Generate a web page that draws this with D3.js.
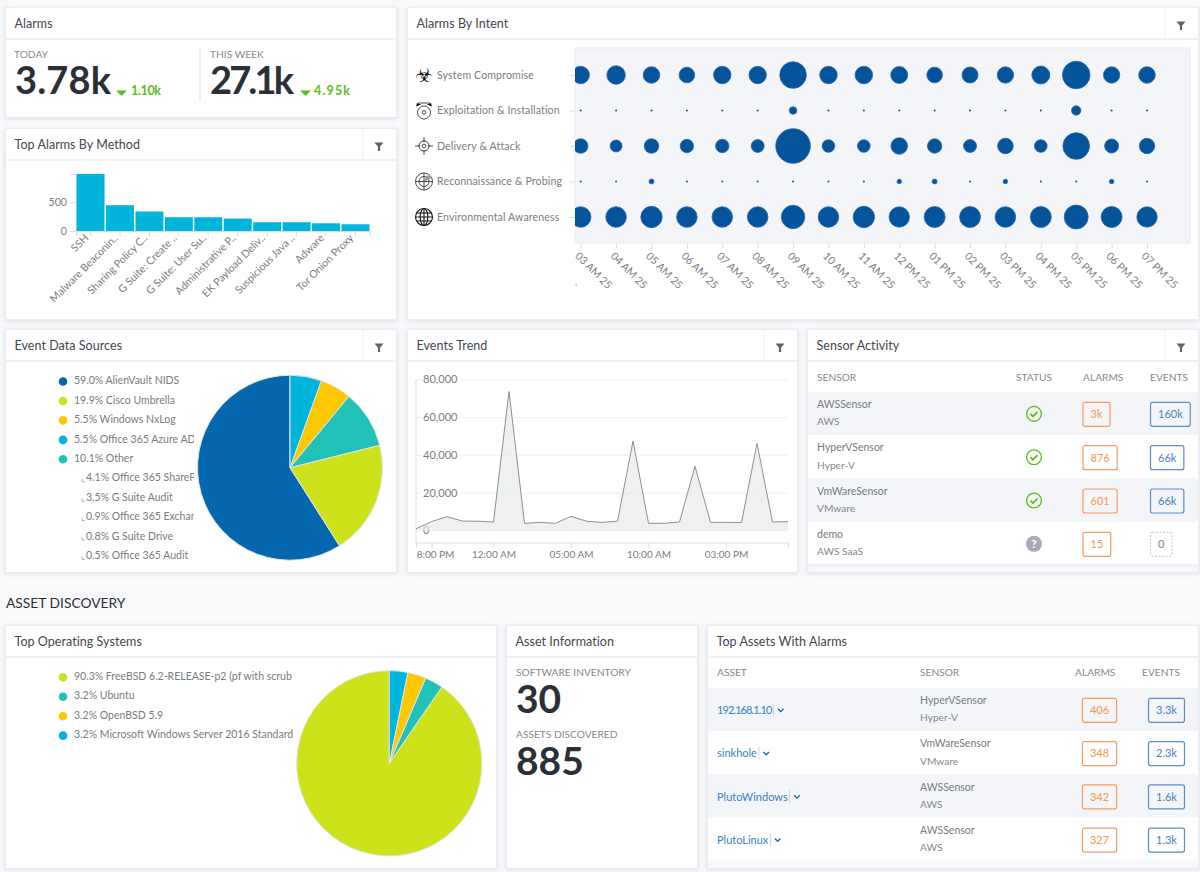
<!DOCTYPE html>
<html>
<head>
<meta charset="utf-8">
<script src="https://cdn.jsdelivr.net/npm/d3@7"></script>
<style>
  html, body { margin: 0; padding: 0; background: #f8f9fb; overflow: hidden; }
  svg { display: block; font-family: Lato, "Open Sans", sans-serif; }
  .panel { fill: #fff; stroke: #e9ecf1; filter: drop-shadow(0 1px 2px rgba(60,70,90,0.14)); }
  .hdr { stroke: #eef1f5; stroke-width: 2; }
  .title { font-size: 12.5px; fill: #43484d; letter-spacing: 0.05px; }
  .axis text { font-size: 10.6px; fill: #797e83; font-family: Lato, "Open Sans", sans-serif; }
  .axis line, .axis path { stroke: #d9dde2; }
  .lbl { font-size: 10.5px; fill: #777c81; }
  .small { font-size: 10.2px; fill: #84898e; }
</style>
</head>
<body>
<script>
// Alarms
const alarmStats = ["3.78k", "27.1k"]
const alarmDeltas = ["1.10k", "4.95k"]

// Top alarms by method
const methodNames = ["SSH", "Malware Beaconin..", "Sharing Policy C..", "G Suite: Create ..", "G Suite: User Su..",
  "Administrative P..", "EK Payload Deliv..", "Suspicious Java ..", "Adware", "Tor Onion Proxy"]
const methodCounts = [990, 448, 338, 239, 239, 216, 152, 152, 134, 117]

// Alarms by intent
const intentNames = ["System Compromise", "Exploitation & Installation", "Delivery & Attack", "Reconnaissance & Probing", "Environmental Awareness"]
const intentHours = ["03 AM 25", "04 AM 25", "05 AM 25", "06 AM 25", "07 AM 25", "08 AM 25", "09 AM 25", "10 AM 25", "11 AM 25",
  "12 PM 25", "01 PM 25", "02 PM 25", "03 PM 25", "04 PM 25", "05 PM 25", "06 PM 25", "07 PM 25"]
const systemCompromise = [76, 86, 69, 61, 76, 76, 177, 77, 77, 72, 61, 64, 67, 81, 190, 67, 69]
const exploitation = [1, 1, 1, 1, 1, 1, 14, 1, 1, 1, 1, 1, 1, 1, 22, 1, 1]
const deliveryAttack = [53, 36, 53, 45, 45, 42, 300, 40, 40, 69, 52, 42, 61, 40, 177, 49, 59]
const reconnaissance = [1, 1, 6, 1, 1, 1, 1, 1, 1, 5, 6, 1, 5, 1, 1, 5, 1]
const environmental = [106, 106, 114, 106, 106, 106, 137, 106, 114, 104, 110, 110, 106, 110, 144, 110, 104]
const intentSeries = [systemCompromise, exploitation, deliveryAttack, reconnaissance, environmental]

// Event data sources
const sourceNames = ["AlienVault NIDS", "Cisco Umbrella", "Windows NxLog", "Office 365 Azure AD", "Other"]
const sourceShares = [59.0, 19.9, 5.5, 5.5, 10.1]
const sourceColors = ["#0568ae", "#cee21c", "#fdc800", "#00b4dc", "#22c1b8"]
const sourcePieOrder = ["Office 365 Azure AD", "Windows NxLog", "Other", "Cisco Umbrella", "AlienVault NIDS"]
const otherNames = ["Office 365 SharePoint", "G Suite Audit", "Office 365 Exchange", "G Suite Drive", "Office 365 Audit"]
const otherShares = [4.1, 3.5, 0.9, 0.8, 0.5]

// Events trend, one point per hour
const trendEvents = [800, 4600, 7200, 4900, 4800, 4400, 73500, 3700, 4200, 3700, 7400, 4800, 4200, 4800, 47300, 3700, 3700,
  4400, 33900, 4200, 4200, 4100, 46100, 4400, 4600]
const trendTicks = [1, 5, 10, 15, 20]
const trendTickLabels = ["8:00 PM", "12:00 AM", "05:00 AM", "10:00 AM", "03:00 PM"]
const trendYTicks = [0, 20000, 40000, 60000, 80000]

// Sensor activity
const sensorNames = ["AWSSensor", "HyperVSensor", "VmWareSensor", "demo"]
const sensorTypes = ["AWS", "Hyper-V", "VMware", "AWS SaaS"]
const sensorOk = [true, true, true, false]
const sensorAlarms = ["3k", "876", "601", "15"]
const sensorEvents = ["160k", "66k", "66k", "0"]

// Top operating systems
const osNames = ["FreeBSD 6.2-RELEASE-p2 (pf with scrub", "Ubuntu", "OpenBSD 5.9", "Microsoft Windows Server 2016 Standard Edition"]
const osShares = [90.3, 3.2, 3.2, 3.2]
const osColors = ["#cee21c", "#22c1b8", "#fdc800", "#00b4dc"]
const osPieOrder = ["Microsoft Windows Server 2016 Standard Edition", "OpenBSD 5.9", "Ubuntu", "FreeBSD 6.2-RELEASE-p2 (pf with scrub"]

// Top assets
const assetNames = ["192.168.1.10", "sinkhole", "PlutoWindows", "PlutoLinux"]
const assetSensors = ["HyperVSensor", "VmWareSensor", "AWSSensor", "AWSSensor"]
const assetTypes = ["Hyper-V", "VMware", "AWS", "AWS"]
const assetAlarms = ["406", "348", "342", "327"]
const assetEvents = ["3.3k", "2.3k", "1.6k", "1.3k"]

const orange = "#f79a63"
const blue = "#5b8cc4"
const green = "#5bbd1e"

const svg = d3.select("body").append("svg").attr("width", 1200).attr("height", 872)
const defs = svg.append("defs")

function addClip(id, x, y, w, h) {
  defs.append("clipPath").attr("id", id).append("rect").attr("x", x).attr("y", y).attr("width", w).attr("height", h)
}

function panel(x, y, w, h, title, filterX) {
  svg.append("rect").attr("class", "panel").attr("x", x + 0.5).attr("y", y + 0.5).attr("width", w).attr("height", h)
  svg.append("text").attr("class", "title").attr("x", x + 9.5).attr("y", y + 16.5).attr("dy", ".35em").text(title)
  svg.append("line").attr("class", "hdr").attr("x1", x + 1).attr("x2", x + w).attr("y1", y + 32).attr("y2", y + 32)
  if (filterX) {
    svg.append("line").attr("class", "hdr").style("stroke-width", 1).attr("x1", filterX).attr("x2", filterX).attr("y1", y + 1).attr("y2", y + 32)
    svg.append("path").attr("fill", "#5d6268")
      .attr("d", `M${filterX + 11.5} ${y + 14.5}h9l-3.4 4v4.5h-2.2v-4.5z`)
  }
}

// ---------- Alarms
panel(5, 7, 391, 110, "Alarms")
const statX = [15, 210]
const statW = [96, 84]
const deltaX = [131, 314]
const deltaW = [30, 36]
const triX = [116, 300]
alarmStats.forEach((d, i) => {
  svg.append("text").attr("class", "small").attr("x", i ? 210 : 14).attr("y", 54).attr("dy", ".35em").text(i ? "THIS WEEK" : "TODAY")
  svg.append("text").attr("x", statX[i]).attr("y", 94).attr("font-size", 38).attr("font-weight", 700).attr("fill", "#2b3036")
    .attr("textLength", statW[i]).attr("lengthAdjust", "spacing").text(d)
  svg.append("path").attr("fill", green).attr("d", `M${triX[i]} 90.5h11l-5.5 5.5z`)
  svg.append("text").attr("x", deltaX[i]).attr("y", 95).attr("font-size", 12.5).attr("font-weight", 700).attr("fill", green)
    .attr("textLength", deltaW[i]).attr("lengthAdjust", "spacing").text(alarmDeltas[i])
})
svg.append("line").attr("x1", 200).attr("x2", 200).attr("y1", 48).attr("y2", 101).attr("stroke", "#e9ecef").attr("stroke-width", 1.5)

// ---------- Top alarms by method
panel(5, 128, 391, 191, "Top Alarms By Method", 363)
const barX = d3.scaleBand().domain(methodNames).range([76, 370]).paddingInner(0.05).paddingOuter(0.02)
const barY = d3.scaleLinear().domain([0, 990]).range([231, 174])
svg.append("g").attr("class", "axis").attr("transform", "translate(76,0)")
  .call(d3.axisLeft(barY).tickValues([0, 500]).tickSize(6))
svg.append("g").selectAll("rect").data(methodCounts).join("rect")
  .attr("x", (d, i) => barX(methodNames[i]))
  .attr("y", d => barY(d))
  .attr("width", barX.bandwidth())
  .attr("height", d => barY(0) - barY(d))
  .attr("fill", "#00b4dc")
svg.append("g").attr("class", "axis").attr("transform", "translate(0,231)")
  .call(d3.axisBottom(barX).tickSize(5))
  .selectAll("text")
  .attr("x", 0).attr("y", 0).attr("dy", ".35em")
  .attr("text-anchor", "end")
  .attr("transform", "translate(-4,5) rotate(-45)")

// ---------- Alarms by intent
panel(407, 7, 791, 312, "Alarms By Intent", 1165)
svg.append("rect").attr("x", 575).attr("y", 48).attr("width", 615).attr("height", 195)
  .attr("fill", "#f4f5f8").attr("stroke", "#e9ecf1")
addClip("plot", 575, 48, 615, 195)
const intentX = d3.scalePoint().domain(intentHours).range([580.7, 1147])
const intentY = d3.scalePoint().domain(intentNames).range([75, 217])
const radius = d3.scaleSqrt().domain([0, 300]).range([0, 17.3])
const yAxisG = svg.append("g").attr("class", "axis").attr("transform", "translate(575,0)")
  .call(d3.axisLeft(intentY).tickSize(5).tickSizeOuter(0))
yAxisG.select(".domain").remove()
yAxisG.selectAll("text").attr("x", -138).attr("text-anchor", "start").style("letter-spacing", "0.12px")
const xAxisG = svg.append("g").attr("class", "axis").attr("transform", "translate(0,243)")
  .call(d3.axisBottom(intentX).tickSize(5).tickSizeOuter(0))
xAxisG.select(".domain").remove()
xAxisG.selectAll("text").attr("x", 0).attr("y", 0).attr("dy", ".35em")
  .attr("text-anchor", "start")
  .attr("transform", "translate(-4,11) rotate(45)")
svg.append("text").attr("x", 575).attr("y", 285).attr("font-size", 9).attr("fill", "#8a8f94").text(",")

const bubbleG = svg.append("g").attr("clip-path", "url(#plot)")
intentSeries.forEach((series, s) => {
  bubbleG.append("g").selectAll("circle").data(series).join("circle")
    .attr("cx", (d, i) => intentX(intentHours[i]))
    .attr("cy", intentY(intentNames[s]))
    .attr("r", d => radius(d))
    .attr("fill", "#03549a")
    .attr("stroke", "#2a62a8")
    .attr("stroke-width", d => d > 1 ? 0.8 : 0)
})

// little intent icons
function intentIcon(i, cy) {
  const g = svg.append("g").attr("transform", `translate(424,${cy})`).attr("fill", "none").attr("stroke", "#333").attr("stroke-width", 0.9)
  if (i == 0) {
    g.append("text").attr("text-anchor", "middle").attr("dy", ".36em").attr("stroke", "none").attr("fill", "#111")
      .attr("font-family", "DejaVu Sans").attr("font-size", 20).text("\u2623")
  } else if (i == 1) {
    g.append("circle").attr("cy", 2).attr("r", 6.5)
    g.append("circle").attr("cy", 2).attr("r", 1.8)
    g.append("path").attr("fill", "#111").attr("stroke", "none").attr("d", "M-8 -4l1 -3.5l4 1.5zM8 -4l-1 -3.5l-4 1.5z")
    g.append("path").attr("d", "M-6 -7.5h12")
  } else if (i == 2) {
    g.append("circle").attr("r", 5)
    g.append("circle").attr("r", 1.8)
    g.append("path").attr("d", "M-9 0h5M4 0h5M0 -9v5M0 4v5")
  } else if (i == 3) {
    g.append("circle").attr("r", 8.5)
    g.append("circle").attr("r", 5)
    g.append("path").attr("d", "M-8.5 0h17M0 -8.5v17M0 0l5 -5")
    g.append("path").attr("fill", "#999").attr("stroke", "none").attr("d", "M0 0L7 -3A7 7 0 0 0 3 -6.5z")
  } else {
    g.attr("stroke", "#111").attr("stroke-width", 1.1)
    g.append("circle").attr("r", 8.5)
    g.append("ellipse").attr("rx", 3.8).attr("ry", 8.5)
    g.append("path").attr("d", "M-8.5 0h17M0 -8.5v17M-7.5 -4h15M-7.5 4h15")
  }
}
intentNames.forEach((d, i) => intentIcon(i, intentY(d)))

// ---------- Pie helper, used by both pies
function pieWithLegend(names, shares, colors, pieOrder, cx, cy, r, legendTop, clipRight, clipId) {
  const pie = d3.pie().value(d => d.share).sort((a, b) => pieOrder.indexOf(a.name) - pieOrder.indexOf(b.name))
  const rows = names.map((name, i) => ({ name, share: shares[i], color: colors[i] }))
  const arc = d3.arc().innerRadius(0).outerRadius(r)
  svg.append("g").attr("transform", `translate(${cx},${cy})`)
    .selectAll("path").data(pie(rows)).join("path")
    .attr("d", arc).attr("fill", d => d.data.color).attr("stroke", "#e2e6e9").attr("stroke-width", 1)
  addClip(clipId, 0, legendTop - 12, clipRight, 220)
  const legend = svg.append("g").attr("clip-path", `url(#${clipId})`)
  rows.forEach((d, i) => {
    const y = legendTop + i * 19.45
    legend.append("circle").attr("cx", 63).attr("cy", y + 1).attr("r", 4.3).attr("fill", d.color)
    legend.append("text").attr("class", "lbl").attr("x", 74).attr("y", y).attr("dy", ".35em")
      .text(d.share.toFixed(1) + "% " + d.name)
  })
  return legend
}

// ---------- Event data sources
panel(5, 329, 391, 243, "Event Data Sources", 363)
const srcLegend = pieWithLegend(sourceNames, sourceShares, sourceColors, sourcePieOrder, 290, 467.7, 92.5, 380.5, 194, "srcClip")
otherNames.forEach((d, i) => {
  const y = 380.5 + (i + 5) * 19.45
  srcLegend.append("path").attr("d", `M82 ${y + 1}v3h3`).attr("fill", "none").attr("stroke", "#9a9ea3").attr("stroke-width", 0.8)
  srcLegend.append("text").attr("class", "lbl").attr("x", 86).attr("y", y).attr("dy", ".35em")
    .text(otherShares[i].toFixed(1) + "% " + d)
})

// ---------- Events trend
panel(407, 329, 390, 243, "Events Trend", 764)
const trendStart = new Date(2018, 0, 1, 19)
const trendDate = i => d3.timeHour.offset(trendStart, i)
const trendX = d3.scaleTime().domain([trendDate(0), trendDate(24)]).range([416, 788])
const trendY = d3.scaleLinear().domain([0, 80000]).range([530.3, 379.3])
const trendYG = svg.append("g").attr("class", "axis").attr("transform", "translate(416,0)")
  .call(d3.axisRight(trendY).tickValues(trendYTicks).tickSize(372).tickFormat(d3.format(",")))
trendYG.select(".domain").remove()
trendYG.selectAll("line").style("stroke", "#eef0f3")
trendYG.selectAll("text").attr("x", 7).attr("text-anchor", "start")
  .style("font-size", "11px")
  .style("paint-order", "stroke").attr("stroke", "#fff").attr("stroke-width", 4)
svg.append("line").attr("x1", 416).attr("x2", 416).attr("y1", 379).attr("y2", 543).attr("stroke", "#d9dde2")
const trendArea = d3.area().x((d, i) => trendX(trendDate(i))).y0(trendY(0)).y1(d => trendY(d))
const trendLine = d3.line().x((d, i) => trendX(trendDate(i))).y(d => trendY(d))
svg.append("path").datum(trendEvents).attr("d", trendArea).attr("fill", "#e6e9e9").attr("fill-opacity", 0.65)
svg.append("path").datum(trendEvents).attr("d", trendLine).attr("fill", "none").attr("stroke", "#8b9095").attr("stroke-width", 1)
const trendXG = svg.append("g").attr("class", "axis").attr("transform", "translate(0,542.5)")
  .call(d3.axisBottom(trendX).tickValues(trendTicks.map(trendDate)).tickSize(5)
    .tickFormat((d, i) => trendTickLabels[i]))
trendXG.selectAll("text").style("font-size", "10px")
trendXG.selectAll("text").filter((d, i) => i == 0).attr("dx", 3.5)

// ---------- Tables
function badge(g, x, cy, label, color, textColor, leftEdge, dashed) {
  const t = g.append("text").attr("y", cy).attr("dy", ".35em").attr("text-anchor", "middle")
    .attr("font-size", 11).attr("fill", textColor).text(label)
  const w = t.node().getComputedTextLength() + 15
  const cx = leftEdge ? x + w / 2 : x
  t.attr("x", cx)
  g.append("rect").attr("x", cx - w / 2).attr("y", cy - 12).attr("width", w).attr("height", 24).attr("rx", 2)
    .attr("fill", "none").attr("stroke", color).attr("stroke-width", 1.2).attr("stroke-dasharray", dashed ? "2 1.5" : null)
}

function header(x, y, label) {
  svg.append("text").attr("class", "small").attr("x", x).attr("y", y).attr("dy", ".35em").text(label)
}

// sensor activity
panel(807, 329, 391, 243, "Sensor Activity", 1165)
header(817, 377, "SENSOR"); header(1016, 377, "STATUS"); header(1083, 377, "ALARMS"); header(1150, 377, "EVENTS")
const sensorRow = d3.scaleBand().domain(sensorNames).range([391.7, 565])
svg.append("rect").attr("x", 808).attr("y", 565).attr("width", 390).attr("height", 7).attr("fill", "#f7f8fa")
svg.append("line").attr("x1", 808).attr("x2", 1198).attr("y1", 565).attr("y2", 565).attr("stroke", "#e5e9ee")
sensorNames.forEach((d, i) => {
  const y0 = sensorRow(d), mid = y0 + sensorRow.bandwidth() / 2
  const g = svg.append("g")
  if (i % 2 == 0) g.append("rect").attr("x", 808).attr("y", y0).attr("width", 390).attr("height", sensorRow.bandwidth()).attr("fill", "#f3f5f8")
  g.append("text").attr("class", "lbl").attr("x", 817).attr("y", mid - 9).attr("dy", ".35em").text(d)
  g.append("text").attr("class", "small").attr("x", 817).attr("y", mid + 8.5).attr("dy", ".35em").text(sensorTypes[i])
  if (sensorOk[i]) {
    g.append("circle").attr("cx", 1034).attr("cy", mid + 0.5).attr("r", 7.4).attr("fill", "none").attr("stroke", green).attr("stroke-width", 1.3)
    g.append("path").attr("d", `M1030.5 ${mid + 0.5}l2.5 2.5l4.5 -4.5`).attr("fill", "none").attr("stroke", green).attr("stroke-width", 1.8)
  } else {
    g.append("circle").attr("cx", 1034).attr("cy", mid + 0.5).attr("r", 8).attr("fill", "#a6abb3")
    g.append("text").attr("x", 1034).attr("y", mid + 0.5).attr("dy", ".36em").attr("text-anchor", "middle")
      .attr("font-size", 12).attr("font-weight", 900).attr("fill", "#fff").text("?")
  }
  badge(g, 1083, mid + 1, sensorAlarms[i], orange, "#f7954f", true)
  const zero = sensorEvents[i] == "0"
  badge(g, 1150.5, mid + 1, sensorEvents[i], zero ? "#c9cdd2" : blue, zero ? "#80858a" : "#4a82c0", true, zero)
})

// section heading
svg.append("text").attr("x", 6).attr("y", 603.5).attr("dy", ".35em").attr("font-size", 13.8).attr("fill", "#2b2f33").text("ASSET DISCOVERY")

// ---------- Top operating systems
panel(5, 625, 491, 243, "Top Operating Systems")
pieWithLegend(osNames, osShares, osColors, osPieOrder, 389.3, 763.3, 92.7, 676.3, 295, "osClip")

// ---------- Asset information
panel(506, 625, 191, 243, "Asset Information")
svg.append("text").attr("class", "small").attr("x", 516).attr("y", 672).attr("dy", ".35em").text("SOFTWARE INVENTORY")
svg.append("text").attr("x", 516).attr("y", 713).attr("font-size", 39).attr("font-weight", 700).attr("fill", "#2b3036").text("30")
svg.append("text").attr("class", "small").attr("x", 516).attr("y", 734).attr("dy", ".35em").text("ASSETS DISCOVERED")
svg.append("text").attr("x", 516).attr("y", 775).attr("font-size", 39).attr("font-weight", 700).attr("fill", "#2b3036").text("885")

// ---------- Top assets
panel(707, 625, 491, 243, "Top Assets With Alarms")
header(717, 672.5, "ASSET"); header(920, 672.5, "SENSOR"); header(1075, 672.5, "ALARMS"); header(1142, 672.5, "EVENTS")
const assetRow = d3.scaleBand().domain(assetNames).range([687.7, 860.7])
svg.append("rect").attr("x", 708).attr("y", 860.7).attr("width", 490).attr("height", 7.5).attr("fill", "#f7f8fa")
assetNames.forEach((d, i) => {
  const y0 = assetRow(d), mid = y0 + assetRow.bandwidth() / 2
  const g = svg.append("g")
  if (i % 2 == 0) g.append("rect").attr("x", 708).attr("y", y0).attr("width", 490).attr("height", assetRow.bandwidth()).attr("fill", "#f3f5f8")
  const name = g.append("text").attr("x", 717).attr("y", mid + 1).attr("dy", ".35em").attr("font-size", 11).attr("fill", "#3a7fc1")
    .style("letter-spacing", i == 0 ? "-0.9px" : null).text(d)
  const end = 717 + name.node().getComputedTextLength()
  g.append("line").attr("x1", end + 2).attr("x2", end + 2).attr("y1", mid - 6).attr("y2", mid + 7).attr("stroke", "#cfd4da")
  g.append("path").attr("d", `M${end + 6.5} ${mid - 0.5}l2.8 2.8l2.8 -2.8`).attr("fill", "none").attr("stroke", "#1f5fa8").attr("stroke-width", 1.4)
  g.append("text").attr("class", "lbl").attr("x", 920).attr("y", mid - 9).attr("dy", ".35em").text(assetSensors[i])
  g.append("text").attr("class", "small").attr("x", 920).attr("y", mid + 8.5).attr("dy", ".35em").text(assetTypes[i])
  badge(g, 1099.5, mid + 1, assetAlarms[i], orange, "#f7954f")
  badge(g, 1166.5, mid + 1, assetEvents[i], blue, "#4a82c0")
})
</script>
</body>
</html>
